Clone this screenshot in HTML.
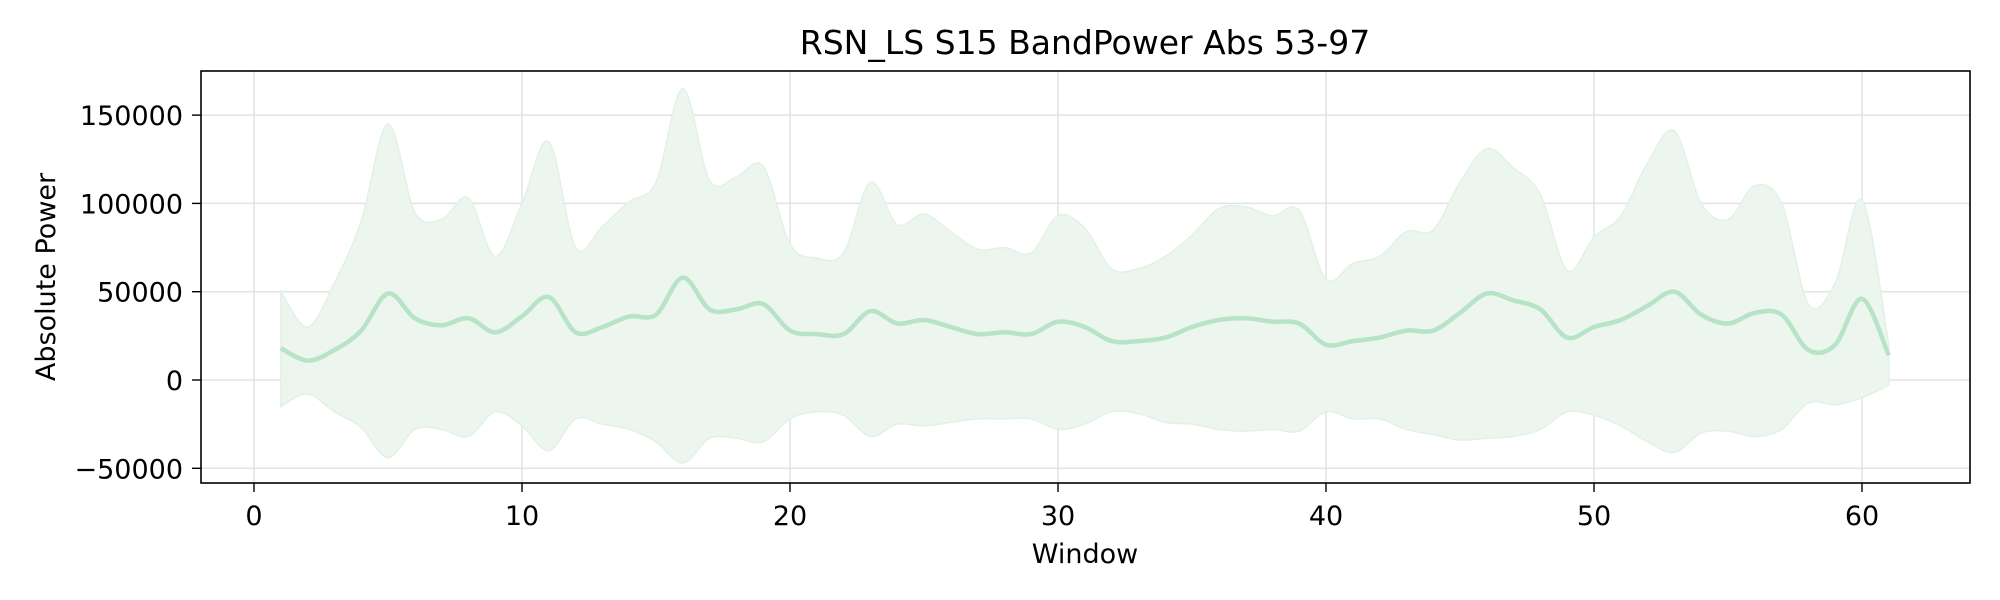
<!DOCTYPE html>
<html><head><meta charset="utf-8"><style>
html,body{margin:0;padding:0;background:#fff;width:2000px;height:600px;overflow:hidden}
svg text{font-family:"DejaVu Sans","Liberation Sans",sans-serif;fill:#000}
</style></head><body>
<svg id="chart" width="2000" height="600" xmlns="http://www.w3.org/2000/svg">
<text x="1085" y="54" font-size="33" text-anchor="middle">RSN_LS S15 BandPower Abs 53-97</text>
<g id="grid"></g>
<g id="marks"></g>
<rect x="201" y="71" width="1769" height="412" fill="none" stroke="#000" stroke-width="1.6"/>
<g id="ticks"></g>
<text x="1085" y="563" font-size="27" text-anchor="middle">Window</text>
<text transform="translate(55,277) rotate(-90)" font-size="27" text-anchor="middle">Absolute Power</text>
</svg>
<script>
const windows = [];
for (let i = 1; i <= 61; i++) windows.push(i);
const meanValues = [18000,11000,17000,28000,49000,35000,31000,35000,27000,36000,47000,27000,30000,36000,37000,58000,40000,40000,43000,28000,26000,26000,39000,32000,34000,30000,26000,27000,26000,33000,30000,22000,22000,24000,30000,34000,35000,33000,32000,20000,22000,24000,28000,28000,38000,49000,45000,40000,24000,30000,34000,42000,50000,37000,32000,38000,37000,17000,20000,46000,14000];
const upperValues = [50000,30000,55000,90000,145000,95000,91000,103000,70000,100000,135000,75000,87000,101000,112000,165000,113000,115000,121000,77000,69000,72000,112000,88000,94000,84000,74000,75000,72000,93000,86000,63000,63000,70000,82000,97000,98000,93000,96000,57000,66000,70000,84000,85000,112000,131000,120000,105000,62000,81000,93000,123000,141000,100000,91000,110000,100000,43000,55000,102000,20000];
const lowerValues = [-15000,-8000,-18000,-27000,-44000,-28000,-28000,-32000,-18000,-26000,-40000,-22000,-25000,-28000,-35000,-47000,-33000,-33000,-35000,-22000,-18000,-20000,-32000,-25000,-26000,-24000,-22000,-22000,-22000,-28000,-25000,-18000,-19000,-24000,-25000,-28000,-29000,-28000,-29000,-18000,-22000,-22000,-28000,-31000,-34000,-33000,-32000,-28000,-18000,-20000,-26000,-35000,-41000,-30000,-29000,-32000,-28000,-13000,-14000,-10000,-3000];
const xTicks = [0,10,20,30,40,50,60];
const yTicks = [-50000,0,50000,100000,150000];
const yTickLabels = ["\u221250000","0","50000","100000","150000"];

const NS = "http://www.w3.org/2000/svg";
function xScale(v){ return 254 + v * 26.8; }
function yScale(v){ return 380 - v * (88.3/50000); }
function mk(tag, attrs, parent){
  const el = document.createElementNS(NS, tag);
  for (const k in attrs) el.setAttribute(k, attrs[k]);
  parent.appendChild(el); return el;
}
function smoothPath(xs, ys, move){
  const p = xs.map((x,i)=>[xScale(x), yScale(ys[i])]);
  let d = (move ? "M" : "L") + p[0][0].toFixed(1) + "," + p[0][1].toFixed(1);
  for (let i = 0; i < p.length - 1; i++){
    const p0 = p[Math.max(0,i-1)], p1 = p[i], p2 = p[i+1], p3 = p[Math.min(p.length-1,i+2)];
    const c1 = [p1[0] + (p2[0]-p0[0])/6, p1[1] + (p2[1]-p0[1])/6];
    const c2 = [p2[0] - (p3[0]-p1[0])/6, p2[1] - (p3[1]-p1[1])/6];
    d += "C" + c1.map(v=>v.toFixed(1)).join(",") + " " + c2.map(v=>v.toFixed(1)).join(",") + " " + p2[0].toFixed(1) + "," + p2[1].toFixed(1);
  }
  return d;
}
const grid = document.getElementById("grid");
const ticks = document.getElementById("ticks");
const marks = document.getElementById("marks");
xTicks.forEach(t=>{
  const x = xScale(t);
  const g = mk("line",{x1:x,x2:x,y1:71,y2:483,stroke:"#e3e3e3","stroke-width":1.5},grid);
  
  
  const tk = mk("line",{x1:x,x2:x,y1:483,y2:492,stroke:"#000","stroke-width":1.4},ticks);
  
  
  const lb = mk("text",{x:x,y:525,"font-size":27,"text-anchor":"middle"},ticks);
  lb.textContent = t;
  
  
});
yTicks.forEach((t,i)=>{
  const y = yScale(t);
  const g = mk("line",{x1:201,x2:1970,y1:y,y2:y,stroke:"#e3e3e3","stroke-width":1.5},grid);
  
  
  const tk = mk("line",{x1:192,x2:201,y1:y,y2:y,stroke:"#000","stroke-width":1.4},ticks);
  
  
  const lb = mk("text",{x:183,y:y+10,"font-size":27,"text-anchor":"end"},ticks);
  lb.textContent = yTickLabels[i];
  
  
});
const rx = windows.slice().reverse();
const band = mk("path",{d: smoothPath(windows, upperValues, true) + smoothPath(rx, lowerValues.slice().reverse(), false) + "Z", fill:"#ecf6ee", stroke:"#e1f2e5","stroke-width":1.5},marks);


const line = mk("path",{d: smoothPath(windows, meanValues, true), fill:"none", stroke:"#b7e3c7","stroke-width":4.5,"stroke-linejoin":"round"},marks);


</script>
</body></html>
